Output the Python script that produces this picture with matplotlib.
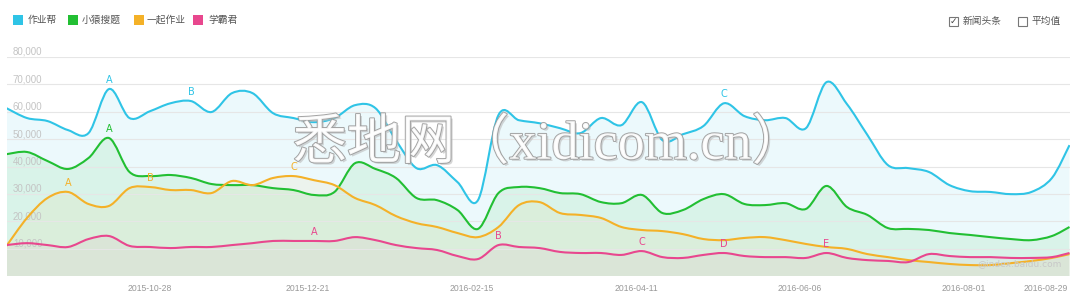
import matplotlib
matplotlib.use('Agg')
import matplotlib.pyplot as plt
import matplotlib.dates as mdates
import matplotlib.patheffects as pe
from matplotlib.path import Path
from matplotlib.patches import PathPatch, Rectangle
import numpy as np
import pandas as pd

plt.rcParams['font.family'] = ['Noto Sans CJK SC', 'DejaVu Sans']

# weekly samples, last one is the end of the range
dates = list(pd.date_range('2015-09-09', periods=52, freq='7D')) + [pd.Timestamp('2016-09-06')]

zuoyebang = [61300, 57700, 56600, 53300, 52200, 68300, 57700, 60200, 63100, 63900,
             59900, 66800, 66800, 59500, 57700, 56200, 57700, 62400, 61300, 49600,
             39400, 40500, 34300, 27700, 58800, 56900, 55800, 54000, 52200, 57700,
             55100, 63500, 49600, 51800, 54800, 63100, 58400, 56900, 57700, 54000,
             70800, 62800, 51500, 40500, 39400, 38000, 33200, 31000, 30700, 29900,
             30700, 35800, 47800]
xiaoyuan = [44500, 45300, 42000, 39100, 43100, 50400, 38000, 36500, 36900, 35800,
            33600, 33200, 33200, 32100, 31400, 29600, 30700, 41200, 39100, 35800,
            28500, 27700, 24100, 17200, 30300, 32500, 32100, 30300, 29900, 27000,
            26600, 29600, 23000, 24100, 28100, 29900, 26300, 25900, 26600, 24500,
            32900, 25200, 22300, 17500, 17200, 16800, 15700, 15000, 14200, 13500,
            13100, 14600, 17900]
yiqi = [11000, 21200, 28500, 30700, 26300, 25600, 32100, 32500, 31400, 31400,
        30300, 34700, 33200, 35800, 36500, 35000, 33200, 28500, 25900, 21900,
        19300, 17900, 15700, 14200, 17900, 25900, 27000, 23000, 22300, 21200,
        17900, 16800, 16400, 15300, 13500, 13100, 13900, 14200, 13100, 11700,
        10600, 9900, 8000, 6900, 5800, 5100, 4400, 4000, 4000, 4700,
        5500, 6600, 8000]
xueba = [11300, 12000, 11300, 10600, 13500, 14600, 11000, 10600, 10200, 10600,
         10600, 11300, 12000, 12800, 12800, 12800, 12800, 14200, 13100, 11300,
         10200, 9500, 7300, 6200, 11300, 10600, 10200, 8800, 8400, 8400,
         7700, 9100, 6900, 6600, 7700, 8400, 7300, 6900, 6900, 6600,
         8400, 6600, 5800, 5500, 5100, 8000, 7300, 6900, 6900, 6600,
         6600, 6900, 8400]

names = ['作业帮', '小猿搜题', '一起作业', '学霸君']
colors = ['#2fc4e6', '#22bf33', '#f4b128', '#e8478e']
fill_alpha = [0.09, 0.09, 0.07, 0.05]

# event markers: (week index, letter)
marks_zyb = [(5, 'A'), (9, 'B'), (35, 'C')]
marks_xy = [(5, 'A')]
marks_yq = [(3, 'A'), (7, 'B'), (14, 'C')]
marks_xb = [(15, 'A'), (24, 'B'), (31, 'C'), (35, 'D'), (40, 'E')]

tick_dates = ['2015-10-28', '2015-12-21', '2016-02-15', '2016-04-11',
              '2016-06-06', '2016-08-01', '2016-08-29']
y_ticks = [10000, 20000, 30000, 40000, 50000, 60000, 70000, 80000]


def smooth_path(x, y):
    # catmull-rom style bezier through the points
    pts = np.column_stack([x, y])
    n = len(pts)
    verts = [pts[0]]
    codes = [Path.MOVETO]
    for i in range(n - 1):
        p0 = pts[max(i - 1, 0)]
        p1 = pts[i]
        p2 = pts[i + 1]
        p3 = pts[min(i + 2, n - 1)]
        verts += [p1 + (p2 - p0) / 6, p2 - (p3 - p1) / 6, p2]
        codes += [Path.CURVE4] * 3
    return verts, codes


W, H = 1080, 298
fig = plt.figure(figsize=(W / 100, H / 100), dpi=100)
ax = fig.add_axes([6.5 / W, 22 / H, 1063 / W, 219 / H])
ax.set_facecolor('none')

x = mdates.date2num(dates)
series = [zuoyebang, xiaoyuan, yiqi, xueba]

for vals, c, a in zip(series, colors, fill_alpha):
    verts, codes = smooth_path(x, np.array(vals, dtype=float))
    fverts = verts + [(x[-1], 0), (x[0], 0), (x[0], 0)]
    fcodes = codes + [Path.LINETO, Path.LINETO, Path.CLOSEPOLY]
    ax.add_patch(PathPatch(Path(fverts, fcodes), facecolor=c, edgecolor='none', alpha=a, zorder=1))

for vals, c in zip(series, colors):
    verts, codes = smooth_path(x, np.array(vals, dtype=float))
    ax.add_patch(PathPatch(Path(verts, codes), facecolor='none', edgecolor=c, lw=1.5, zorder=3))

for vals, c, marks in zip(series, colors, [marks_zyb, marks_xy, marks_yq, marks_xb]):
    for i, letter in marks:
        ax.annotate(letter, (x[i], vals[i]), xytext=(0, 3), textcoords='offset points',
                    ha='center', va='bottom', color=c, fontsize=7, family='DejaVu Sans', zorder=4)

ax.set_xlim(mdates.date2num(pd.Timestamp('2015-09-09')), mdates.date2num(pd.Timestamp('2016-09-06')))
ax.set_ylim(0, 80000)
ax.set_yticks(y_ticks)
ax.set_yticklabels([])
ax.tick_params(axis='y', length=0)
ax.grid(axis='y', color='#e6e6e6', lw=0.8, zorder=0)
for s in ax.spines.values():
    s.set_visible(False)

for v in y_ticks:
    ax.text(0.006, v, f'{v:,}', transform=ax.get_yaxis_transform(), ha='left', va='bottom',
            fontsize=7, color='#c4c4c4', family='Liberation Sans', zorder=2)

ax.set_xticks(mdates.date2num(pd.to_datetime(tick_dates)))
ax.set_xticklabels(tick_dates, fontsize=6.2, color='#999999', family='Liberation Sans')
ax.tick_params(axis='x', length=0, pad=6)

# legend across the top
sq_x = [13, 68, 134, 193]
txt_x = [28, 82, 147, 208]
for name, c, sx, tx in zip(names, colors, sq_x, txt_x):
    fig.patches.append(Rectangle((sx / W, 1 - 25 / H), 10 / W, 10 / H, transform=fig.transFigure,
                                 facecolor=c, edgecolor='none'))
    fig.text(tx / W, 1 - 20 / H, name, ha='left', va='center', fontsize=7, color='#555555')

# check boxes at top right
for bx, label, checked in [(949, '新闻头条', True), (1018, '平均值', False)]:
    fig.patches.append(Rectangle((bx / W, 1 - 26 / H), 9 / W, 9 / H, transform=fig.transFigure,
                                 facecolor='white', edgecolor='#777777', lw=0.8))
    if checked:
        fig.text((bx + 4.5) / W, 1 - 21.5 / H, '✓', ha='center', va='center', fontsize=6.5,
                 color='#444444', family='DejaVu Sans')
    fig.text((bx + 14) / W, 1 - 21 / H, label, ha='left', va='center', fontsize=7, color='#555555')

# watermarks
fig.text(549 / W, 1 - 145 / H, '悉地网（xidicom.cn）', ha='center', va='center', fontsize=39,
         color='white', alpha=0.9, family=['Liberation Serif', 'Noto Sans CJK SC'], zorder=10,
         path_effects=[pe.SimplePatchShadow(offset=(1.5, -1.5), shadow_rgbFace='#bbbbbb', alpha=0.6),
                       pe.withStroke(linewidth=1.4, foreground='#9a9a9a')])
fig.text(1020 / W, 1 - 264 / H, '@index.baidu.com', ha='center', va='center', fontsize=6.5,
         color='#c8c8c8', family='DejaVu Sans', zorder=10)

fig.savefig('out.png', dpi=100)
